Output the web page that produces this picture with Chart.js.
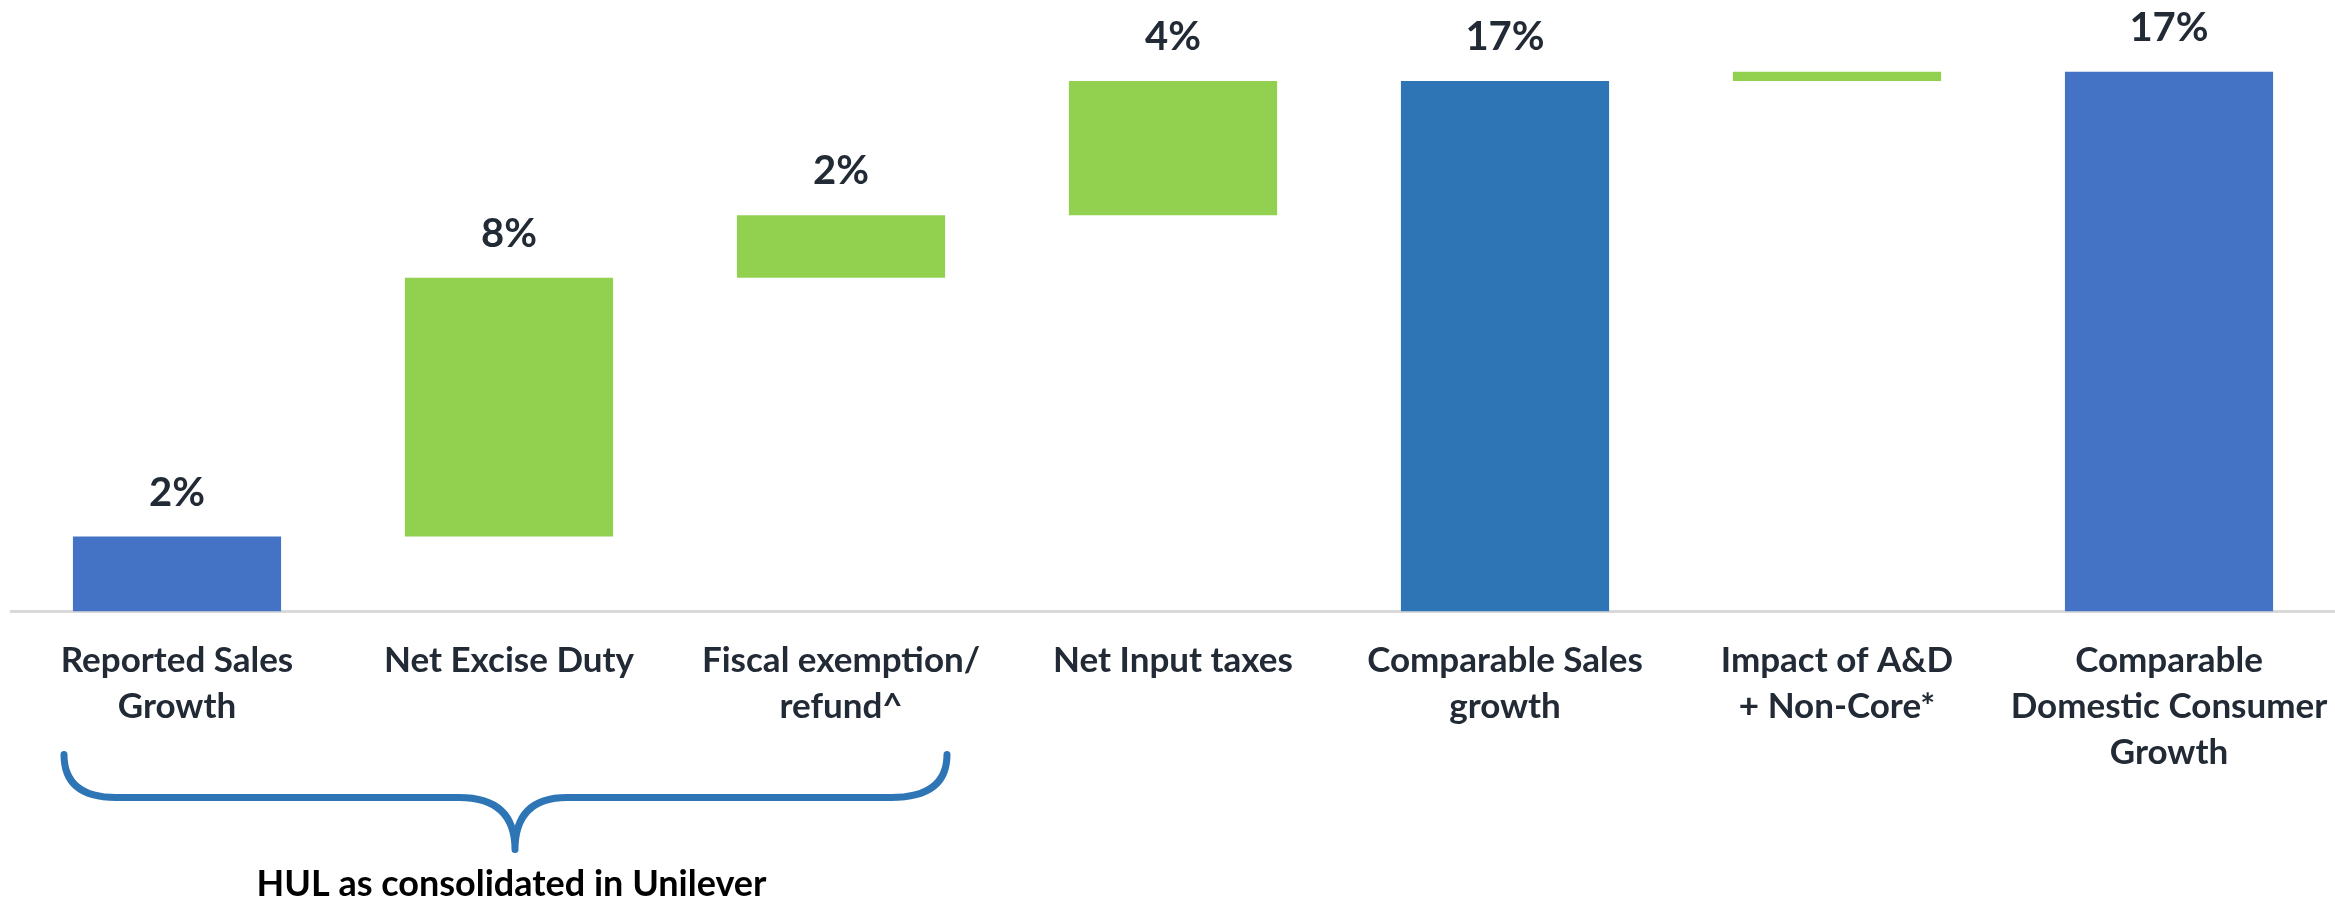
<!DOCTYPE html>
<html>
<head>
<meta charset="utf-8">
<script src="https://cdn.jsdelivr.net/npm/chart.js@4.4.1/dist/chart.umd.min.js"></script>
<style>
  html, body { margin: 0; padding: 0; background: #ffffff; }
  #wrap { width: 2335px; height: 902px; }
</style>
</head>
<body>
<div id="wrap"><canvas id="myChart" width="2335" height="902"></canvas></div>
<script>
// categories of the waterfall
const categories = [
  ['Reported Sales', 'Growth'],
  ['Net Excise Duty'],
  ['Fiscal exemption/', 'refund^'],
  ['Net Input taxes'],
  ['Comparable Sales', 'growth'],
  ['Impact of A&D', '+ Non-Core*'],
  ['Comparable', 'Domestic Consumer', 'Growth']
];
// floating bar bounds, in %
const barBottoms = [0, 2.4, 10.7, 12.7, 0, 17.0, 0];
const barTops = [2.4, 10.7, 12.7, 17.0, 17.0, 17.3, 17.3];
// labels printed above the bars
const valueLabels = ['2%', '8%', '2%', '4%', '17%', '', '17%'];
const barColors = ['#4472C4', '#92D050', '#92D050', '#92D050', '#2E75B6', '#92D050', '#4472C4'];
const groupLabel = 'HUL as consolidated in Unilever';

const textColor = '#222a35';

// labels above each bar
const valueLabelPlugin = {
  id: 'valueLabels',
  afterDatasetsDraw(chart) {
    const ctx = chart.ctx;
    const meta = chart.getDatasetMeta(0);
    ctx.save();
    ctx.font = 'bold 40px Lato';
    ctx.fillStyle = textColor;
    ctx.textAlign = 'center';
    ctx.textBaseline = 'alphabetic';
    meta.data.forEach((bar, i) => {
      if (!valueLabels[i]) return;
      ctx.fillText(valueLabels[i], bar.x, bar.y - 31);
    });
    ctx.restore();
  }
};

// curly brace under the first three categories + caption
const bracePlugin = {
  id: 'brace',
  afterDraw(chart) {
    const ctx = chart.ctx;
    const x = chart.scales.x;
    const base = chart.chartArea.bottom;
    const x0 = x.getPixelForValue(0) - 113;
    const x1 = x.getPixelForValue(2) + 106;
    const tip = x.getPixelForValue(1) + 6;
    const yTop = base + 143, yMid = base + 186, yTip = base + 238;
    ctx.save();
    ctx.strokeStyle = '#2E75B6';
    ctx.lineWidth = 7;
    ctx.lineCap = 'round';
    ctx.lineJoin = 'round';
    ctx.beginPath();
    ctx.moveTo(x0, yTop);
    ctx.quadraticCurveTo(x0, yMid, x0 + 52, yMid);
    ctx.lineTo(tip - 56, yMid);
    ctx.quadraticCurveTo(tip, yMid, tip, yTip);
    ctx.quadraticCurveTo(tip, yMid, tip + 52, yMid);
    ctx.lineTo(x1 - 56, yMid);
    ctx.quadraticCurveTo(x1, yMid, x1, yTop);
    ctx.stroke();

    ctx.font = 'bold 36px Lato';
    ctx.fillStyle = '#000000';
    ctx.textAlign = 'center';
    ctx.textBaseline = 'alphabetic';
    ctx.fillText(groupLabel, (x0 + x1) / 2 + 6, base + 285);
    ctx.restore();
  }
};

const ctx = document.getElementById('myChart').getContext('2d');
new Chart(ctx, {
  type: 'bar',
  data: {
    labels: categories,
    datasets: [{
      data: barBottoms.map((b, i) => [b, barTops[i]]),
      backgroundColor: barColors,
      borderWidth: 0,
      borderSkipped: false,
      categoryPercentage: 1,
      barPercentage: 0.627
    }]
  },
  options: {
    responsive: false,
    animation: false,
    layout: { padding: { left: 11, right: 0, top: 0, bottom: 100 } },
    plugins: {
      legend: { display: false },
      tooltip: { enabled: false }
    },
    scales: {
      x: {
        grid: { display: false, drawTicks: false },
        border: { display: true, color: '#d9d9d9', width: 3 },
        ticks: {
          color: textColor,
          padding: 26,
          autoSkip: false,
          maxRotation: 0,
          font: { family: 'Lato', weight: 'bold', size: 35, lineHeight: 1.32 }
        },
        // keep the categories spread over the full width
        afterFit(scale) {
          scale.paddingLeft = 0;
          scale.paddingRight = 0;
        }
      },
      y: {
        display: false,
        min: 0,
        max: 19.6
      }
    }
  },
  plugins: [valueLabelPlugin, bracePlugin]
});
</script>
</body>
</html>
